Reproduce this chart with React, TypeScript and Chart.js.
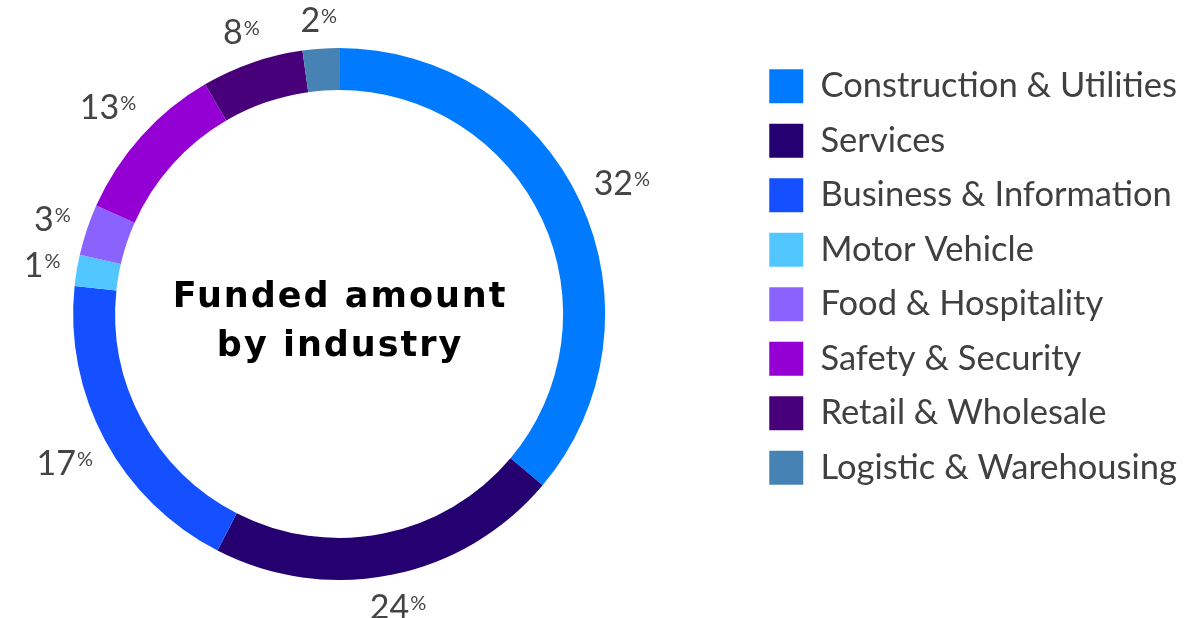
import { useEffect, useRef } from 'react';
import { Chart, ArcElement, DoughnutController, Legend } from 'chart.js';
import type { Plugin } from 'chart.js';

Chart.register(ArcElement, DoughnutController, Legend);

// industries, in the order the ring runs clockwise from the top
const industries = [
  'Construction & Utilities',
  'Services',
  'Business & Information',
  'Motor Vehicle',
  'Food & Hospitality',
  'Safety & Security',
  'Retail & Wholesale',
  'Logistic & Warehousing',
];

// slice sizes as drawn in the ring (%)
const sliceShares = [36.1, 21.4, 19.1, 1.9, 3.1, 9.9, 6.2, 2.2];

// percentages printed next to each slice
const printedShares = [32, 24, 17, 1, 3, 13, 8, 2];

const sliceColors = [
  '#007bff',
  '#250070',
  '#1450ff',
  '#52c6ff',
  '#8a63ff',
  '#9400d3',
  '#48007a',
  '#4682b4',
];

const centerTitle = ['Funded amount', 'by industry'];

// the canvas is a bit wider than the page and pulled left, so the ring
// sits left of the middle of the space the legend leaves free
const SHIFT = 71;

// percent labels just outside the ring, "%" drawn smaller and raised
const percentLabels: Plugin<'doughnut'> = {
  id: 'percentLabels',
  afterDatasetsDraw(chart) {
    const { ctx } = chart;
    const meta = chart.getDatasetMeta(0);
    ctx.save();
    ctx.fillStyle = '#444444';
    ctx.textAlign = 'left';
    ctx.textBaseline = 'alphabetic';
    meta.data.forEach((arc, i) => {
      const { x, y, startAngle, endAngle, outerRadius } = arc.getProps(
        ['x', 'y', 'startAngle', 'endAngle', 'outerRadius'],
        true
      ) as any;
      const mid = (startAngle + endAngle) / 2;
      const num = String(printedShares[i]);
      ctx.font = '34px Lato';
      const m1 = ctx.measureText(num);
      const w1 = m1.width;
      const h1 = m1.actualBoundingBoxAscent;
      ctx.font = '20px Lato';
      const m2 = ctx.measureText('%');
      const w2 = m2.width;
      const w = w1 + w2 + 1;
      // keep the edge of the text a steady gap away from the ring
      const extent = Math.abs(Math.cos(mid)) * w / 2 + Math.abs(Math.sin(mid)) * h1 / 2;
      const r = outerRadius + 15 + extent;
      const cx = x + Math.cos(mid) * r;
      const cy = y + Math.sin(mid) * r;
      const left = cx - w / 2;
      const base = cy + h1 / 2;
      ctx.font = '34px Lato';
      ctx.fillText(num, left, base);
      ctx.font = '20px Lato';
      ctx.fillText('%', left + w1 + 1, base - h1 + 2 + m2.actualBoundingBoxAscent);
    });
    ctx.restore();
  },
};

const centerText: Plugin<'doughnut'> = {
  id: 'centerText',
  afterDraw(chart) {
    const arc = chart.getDatasetMeta(0).data[0];
    if (!arc) return;
    const { ctx } = chart;
    ctx.save();
    ctx.fillStyle = '#000000';
    ctx.textAlign = 'center';
    ctx.textBaseline = 'alphabetic';
    ctx.font = 'bold 35px "DejaVu Sans"';
    (ctx as any).letterSpacing = '2px';
    ctx.fillText(centerTitle[0], arc.x + 1, arc.y - 7);
    ctx.fillText(centerTitle[1], arc.x + 1, arc.y + 42);
    ctx.restore();
  },
};

export default function App() {
  const canvasRef = useRef<HTMLCanvasElement>(null);

  useEffect(() => {
    document.body.style.margin = '0';
    document.body.style.overflow = 'hidden';
    if (!canvasRef.current) return;

    const chart = new Chart(canvasRef.current, {
      type: 'doughnut',
      data: {
        labels: industries,
        datasets: [
          {
            data: sliceShares,
            backgroundColor: sliceColors,
            borderWidth: 0,
            hoverOffset: 0,
          },
        ],
      },
      options: {
        animation: false,
        responsive: true,
        maintainAspectRatio: false,
        radius: 266,
        cutout: '84.2%',
        events: [],
        layout: {
          padding: { left: 0, right: 11, top: 49, bottom: 39 },
        },
        plugins: {
          legend: {
            position: 'right',
            align: 'start',
            labels: {
              boxWidth: 34,
              boxHeight: 34,
              padding: 20,
              color: '#404040',
              font: { family: 'Lato', size: 34.5 },
            },
          },
        },
      },
      plugins: [percentLabels, centerText],
    });

    return () => {
      chart.destroy();
    };
  }, []);

  return (
    <div style={{ position: 'absolute', top: 0, left: -SHIFT, width: 1198 + SHIFT, height: 618 }}>
      <canvas ref={canvasRef} />
    </div>
  );
}
